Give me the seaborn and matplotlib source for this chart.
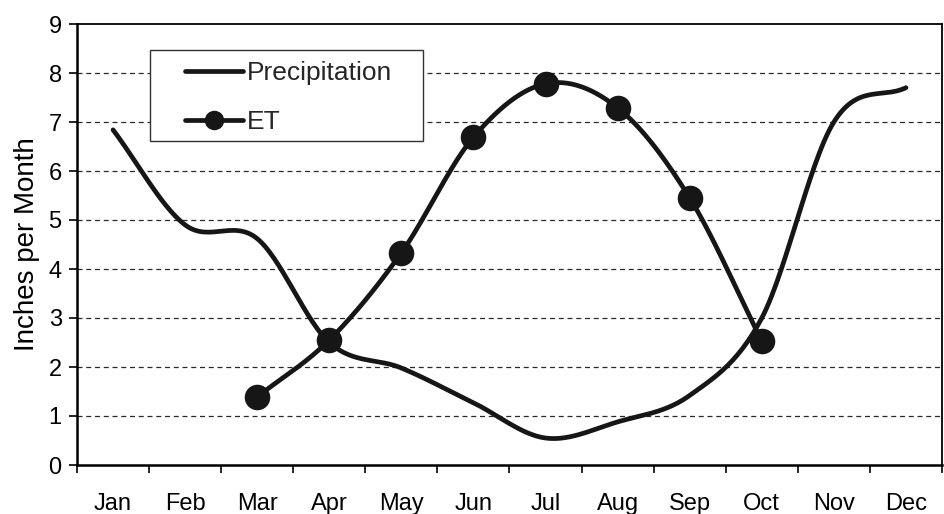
import numpy as np
import pandas as pd
import matplotlib
matplotlib.use("Agg")
import matplotlib.pyplot as plt
import seaborn as sns
from matplotlib.lines import Line2D
from matplotlib.patches import Rectangle

months = ["Jan", "Feb", "Mar", "Apr", "May", "Jun", "Jul", "Aug", "Sep", "Oct", "Nov", "Dec"]
precip = [6.84, 4.9, 4.62, 2.5, 1.98, 1.27, 0.55, 0.88, 1.42, 3.0, 7.0, 7.7]
et_months = ["Mar", "Apr", "May", "Jun", "Jul", "Aug", "Sep", "Oct"]
et = [1.39, 2.55, 4.33, 6.69, 7.78, 7.29, 5.45, 2.53]


def smooth(xs, ys, n=30):
    """Catmull-Rom style smoothing (like spreadsheet smoothed lines)."""
    xs = np.asarray(xs, float)
    ys = np.asarray(ys, float)
    px = np.concatenate([[2 * xs[0] - xs[1]], xs, [2 * xs[-1] - xs[-2]]])
    py = np.concatenate([[2 * ys[0] - ys[1]], ys, [2 * ys[-1] - ys[-2]]])
    ox, oy = [], []
    for i in range(1, len(px) - 2):
        p0, p1, p2, p3 = (np.array([px[j], py[j]]) for j in (i - 1, i, i + 1, i + 2))
        c1 = p1 + (p2 - p0) / 6.0
        c2 = p2 - (p3 - p1) / 6.0
        t = np.linspace(0, 1, n, endpoint=(i == len(px) - 3))[:, None]
        b = (1 - t) ** 3 * p1 + 3 * (1 - t) ** 2 * t * c1 + 3 * (1 - t) * t ** 2 * c2 + t ** 3 * p2
        ox.extend(b[:, 0]); oy.extend(b[:, 1])
    return np.array(ox), np.array(oy)


sns.set_theme(style="white")
plt.rcParams['font.family'] = ['Liberation Sans', 'DejaVu Sans']

INK = "#161616"
fig = plt.figure(figsize=(9.45, 5.14), dpi=100)
ax = fig.add_axes([77 / 945, 1 - 465 / 514, (942 - 77) / 945, (465 - 24) / 514])

x_p = np.arange(len(months))
x_e = np.array([months.index(m) for m in et_months])

sx, sy = smooth(x_p, precip)
sns.lineplot(data=pd.DataFrame({"x": sx, "y": sy}), x="x", y="y", ax=ax, color=INK, lw=3.4,
             sort=False, estimator=None, solid_capstyle="round")

ex, ey = smooth(x_e, et)
sns.lineplot(data=pd.DataFrame({"x": ex, "y": ey}), x="x", y="y", ax=ax, color=INK, lw=3.4,
             sort=False, estimator=None, solid_capstyle="round")
sns.scatterplot(x=x_e, y=et, ax=ax, color=INK, s=290, edgecolor=INK, zorder=5)

ax.set_xlim(-0.5, 11.5)
ax.set_ylim(0, 9)
ax.set_yticks(range(0, 10))
ax.set_xticks(x_p)
ax.set_xticklabels(months)
ax.set_xticks(np.arange(-0.5, 12, 1), minor=True)
ax.tick_params(axis="x", which="major", length=0, pad=20, labelsize=17, labelcolor="black")
ax.tick_params(axis="x", which="minor", length=6, width=1.2, direction="out", color="black", bottom=True)
ax.tick_params(axis="y", length=6, width=1.2, direction="out", color="black", left=True,
               labelsize=17, pad=5, labelcolor="black")
for s in ax.spines.values():
    s.set_color("black")
    s.set_linewidth(1.3)
ax.spines["left"].set_linewidth(1.8)
ax.spines["bottom"].set_linewidth(1.8)
for yv in range(1, 9):
    ax.axhline(yv, color="#2a2a2a", lw=0.9, ls=(0, (4, 3)), zorder=0)
ax.set_xlabel("")
ax.set_ylabel("Inches per Month", fontsize=20, labelpad=6, color="black")

# legend box
ax.add_patch(Rectangle(((150 - 77) / 865, 1 - (141 - 24) / 441), (423 - 150) / 865, (141 - 50) / 441,
                       transform=ax.transAxes, facecolor="white", edgecolor="#333333", lw=1.0, zorder=6))
handles = [Line2D([], [], color=INK, lw=3.4),
           Line2D([], [], color=INK, lw=3.4, marker="o", markersize=13)]
leg = ax.legend(handles, ["Precipitation", "ET"], loc="upper left",
                bbox_to_anchor=((185 - 77) / 865, 1 - (61 - 24) / 441),
                fontsize=19, frameon=False, handlelength=2.2,
                handletextpad=0.15, borderpad=0, labelspacing=0.95, borderaxespad=0)
leg.set_zorder(7)

fig.savefig("out.png", dpi=100)
